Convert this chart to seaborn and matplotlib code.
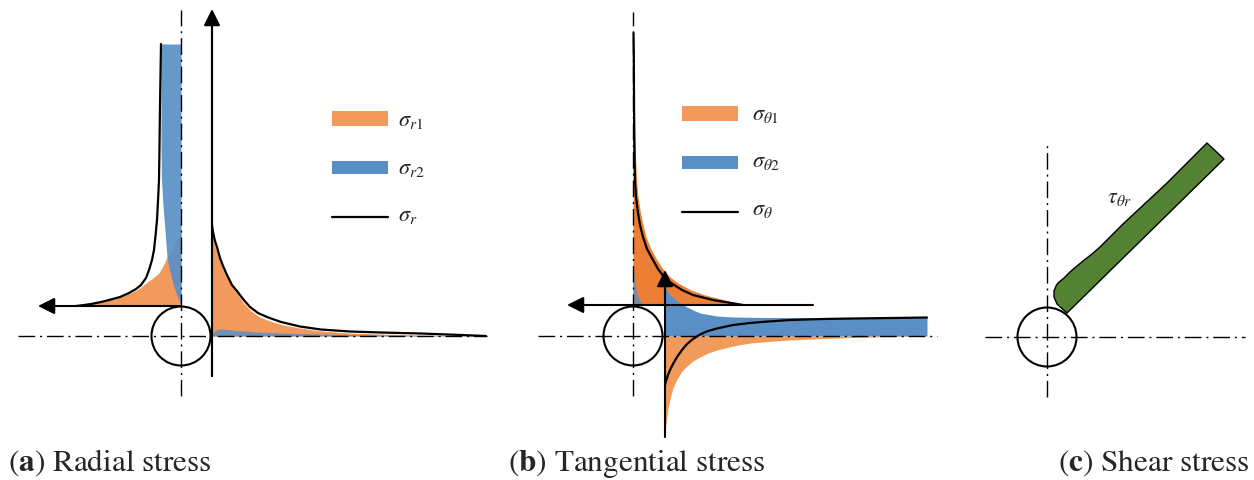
import numpy as np
import matplotlib
matplotlib.use("Agg")
import matplotlib.pyplot as plt
from matplotlib.patches import Circle, Rectangle, Polygon, FancyArrowPatch
import seaborn as sns

# ---------------- data (local units) ----------------
# (a) radial stress, left branch: distance above the arrow line vs stress (leftward)
rad_left_d_total = np.array([0, 1, 2, 4, 6, 9, 13, 17, 21, 28, 36, 46, 56, 70, 86, 105, 126, 160, 200, 262])
rad_left_total = np.array([105, 97, 90, 80, 72, 61, 52, 45, 40, 35, 32, 29, 27, 25.5, 24, 23, 22, 21.5, 21, 20])
rad_left_d_r1 = np.array([0, 2, 4, 7, 11, 16, 23, 28, 33, 40, 49, 55, 60, 67, 75])
rad_left_r1 = np.array([107, 94, 82, 67, 55, 44, 35, 28, 22, 18, 14, 10, 7, 3.5, 0])
rad_left_d_r2 = np.array([0, 3, 6, 12, 19, 26, 36, 49, 62, 76, 100, 126, 160, 200, 262])
rad_left_r2 = np.array([0, 1, 2, 4.5, 7, 9, 11.5, 14, 15, 16, 18, 19.5, 20, 20, 20])

# (a) radial stress, right branch: distance from centre vs stress (upward)
rad_right_x = np.array([31, 32, 34, 36, 39, 42, 46, 51, 56, 62, 69, 77, 86, 100, 119, 140, 169, 200, 240, 280, 305])
rad_right_total = np.array([111, 104, 95, 89, 78, 70, 61, 51, 45, 37, 29, 23, 19, 14, 9.5, 6.5, 4.5, 3.5, 2.5, 1, 0])
rad_right_r1 = np.array([106, 98, 90, 84, 74, 66, 59, 50, 43, 34, 26, 20, 16, 11.5, 8, 5, 3, 2, 1, 0.5, 0])
rad_right_r2 = np.array([0, 3, 5, 6, 7, 7, 6.5, 6, 5.5, 5, 4.5, 4, 3.5, 3, 2.5, 2, 1.5, 1, 0.5, 0, 0])

# (b) tangential stress, upper branch: height above the arrow line vs stress (rightward)
tan_up_d = np.array([0, 5, 10, 15, 22, 28, 36, 45, 56, 68, 80, 92, 108, 125, 150, 172, 210, 250, 272])
tan_up_t1 = np.array([114, 92, 72, 58, 45, 37, 30, 24, 18, 13, 10, 7.5, 5, 3.5, 2.5, 2, 1, 0.5, 0])
tan_up_total = np.array([110, 80, 60, 49, 38, 31, 25, 20, 14, 10, 7, 5, 3, 2, 1.5, 1.2, 1, 0.8, 0.5])
tan_up_d_t2 = np.array([0, 3, 8, 14, 20, 30, 45])
tan_up_t2 = np.array([12, 8, 5, 3.5, 2, 1, 0])

# (b) tangential stress, lower branch: distance from centre vs stress
tan_low_x = np.array([32, 33, 35, 37, 40, 44, 49, 54, 60, 67, 75, 84, 100, 117, 135, 157, 190, 220, 260, 294])
tan_low_t1 = np.array([-101, -88, -72, -63, -52, -43, -35, -30, -25, -21, -17, -14, -10, -7, -5.5, -4, -2.5, -1.5, -0.5, 0])
tan_low_t2 = np.array([49, 47, 44, 41, 39, 35, 32, 29, 26, 23, 21.5, 20, 19, 18.7, 18.5, 18.5, 18.5, 18.5, 18.5, 18.5])
tan_low_total = np.array([-49, -45, -39, -34, -28, -21, -14, -8, -3, 1.5, 5, 7.5, 11, 13, 14.5, 16, 17, 17.5, 18, 18.5])

# (c) shear stress band outline
shear_x = np.array([20, 10, 7, 7, 9, 11, 17, 23, 30, 36, 45, 53, 65, 76, 120, 160, 177])
shear_y = np.array([24, 33, 40, 46, 51, 54, 59, 65, 71, 76, 83, 90, 102, 113, 154, 194, 178])

legend_a = [r"$\sigma_{r\mathit{1}}$", r"$\sigma_{r\mathit{2}}$", r"$\sigma_{r}$"]
legend_b = [r"$\sigma_{\theta\mathit{1}}$", r"$\sigma_{\theta\mathit{2}}$", r"$\sigma_{\theta}$"]
shear_label = r"$\tau_{\theta r}$"
captions = [r"($\mathbf{a}$) Radial stress", r"($\mathbf{b}$) Tangential stress", r"($\mathbf{c}$) Shear stress"]

# ---------------- style ----------------
sns.set_theme(style="white")
plt.rcParams["mathtext.fontset"] = "stix"
plt.rcParams["font.family"] = ["STIXGeneral", "DejaVu Serif"]

ORANGE = "#F19A5B"
ORANGE_D = "#EC7F35"
BLUE = "#5A8FC6"
GREEN = "#548235"
DASHDOT = (0, (12, 3.5, 1.5, 3.5))

W, H = 1254, 480
fig = plt.figure(figsize=(W / 100, H / 100), dpi=100)


def panel_axes(x0, x1, y0, y1, cx, cy):
    ax = fig.add_axes([x0 / W, (H - y1) / H, (x1 - x0) / W, (y1 - y0) / H])
    ax.set_xlim(x0 - cx, x1 - cx)
    ax.set_ylim(cy - y1, cy - y0)
    ax.axis("off")
    return ax


def arrow(ax, start, end):
    a = FancyArrowPatch(start, end, arrowstyle="-|>,head_length=0.5,head_width=0.25",
                        mutation_scale=20, lw=1.5, color="black", shrinkA=0, shrinkB=0,
                        zorder=6, clip_on=False)
    ax.add_patch(a)


def centre_lines(ax, hx, vy):
    ax.plot(hx, [0, 0], color="black", lw=1.0, ls=DASHDOT, zorder=5, clip_on=False)
    ax.plot([0, 0], vy, color="black", lw=1.0, ls=DASHDOT, zorder=5, clip_on=False)
    ax.add_patch(Circle((0, 0), 29.5, fill=False, lw=1.5, ec="black", zorder=6, clip_on=False))


def black(ax, x, y):
    sns.lineplot(x=x, y=y, ax=ax, color="black", lw=1.6, sort=False, estimator=None,
                 legend=False, zorder=5)


# ---------------- panel (a) ----------------
axa = panel_axes(0, 510, 0, 445, 181, 336)
base_a = 30
axa.fill_betweenx(base_a + rad_left_d_r1, -rad_left_r1, 0, color=ORANGE, lw=0, zorder=2)
axa.fill_betweenx(base_a + rad_left_d_r2, -rad_left_r2, 0, color=BLUE, alpha=0.92, lw=0, zorder=3)
black(axa, -rad_left_total, base_a + rad_left_d_total)
axa.fill_between(rad_right_x, 0, rad_right_r1, color=ORANGE, lw=0, zorder=2)
axa.fill_between(rad_right_x, 0, rad_right_r2, color=BLUE, alpha=0.85, lw=0, zorder=3)
black(axa, rad_right_x, rad_right_total)
centre_lines(axa, [-163, 306], [-60, 326])
arrow(axa, (31, -40), (31, 327))
axa.plot([31, 31], [-40, 315], color="black", lw=1.5, zorder=6)
arrow(axa, (0, base_a), (-143, base_a))

# ---------------- panel (b) ----------------
axb = panel_axes(515, 960, 0, 445, 633, 336)
base_b = 31
axb.fill_betweenx(base_b + tan_up_d, 0, tan_up_t1, color=ORANGE_D, lw=0, zorder=2)
axb.fill_betweenx(base_b + tan_up_d_t2, 0, tan_up_t2, color=BLUE, alpha=0.8, lw=0, zorder=3)
black(axb, tan_up_total, base_b + tan_up_d)
axb.fill_between(tan_low_x, 0, tan_low_t1, color=ORANGE, lw=0, zorder=2)
axb.fill_between(tan_low_x, 0, tan_low_t2, color=BLUE, lw=0, zorder=3)
black(axb, tan_low_x, tan_low_total)
centre_lines(axb, [-95, 304], [-60, 324])
axb.plot([32, 32], [-101, 55], color="black", lw=1.5, zorder=6, clip_on=False)
arrow(axb, (32, 40), (32, 66))
arrow(axb, (180, base_b), (-66, base_b))

# ---------------- panel (c) ----------------
axc = panel_axes(960, 1254, 100, 445, 1047, 337)
axc.add_patch(Polygon(np.column_stack([shear_x, shear_y]), closed=True, fc=GREEN,
                      ec="black", lw=1.0, zorder=3))
centre_lines(axc, [-62, 198], [-60, 194])

# ---------------- overlay: legends, labels, captions ----------------
ov = fig.add_axes([0, 0, 1, 1])
ov.set_xlim(0, W)
ov.set_ylim(H, 0)
ov.axis("off")


def legend(x, ys, labels, lx, baselines):
    ov.add_patch(Rectangle((x, ys[0]), 56, 15, color=ORANGE, lw=0))
    ov.add_patch(Rectangle((x, ys[1]), 56, 13, color=BLUE, lw=0))
    ov.plot([x, x + 56], [ys[2], ys[2]], color="black", lw=1.6)
    for lab, b in zip(labels, baselines):
        ov.text(lx, b, lab, fontsize=16, va="baseline", ha="left")


legend(332, [111, 161, 217], legend_a, 398, [126, 174, 221])
legend(682, [106, 156, 212], legend_b, 752, [120, 167, 215])
ov.text(1107, 203, shear_label, fontsize=16, va="baseline", ha="left")

for x, cap in zip([8, 508, 1058], captions):
    ov.text(x, 471, cap, fontsize=22.5, va="baseline", ha="left")

fig.savefig("out.png", dpi=100)
